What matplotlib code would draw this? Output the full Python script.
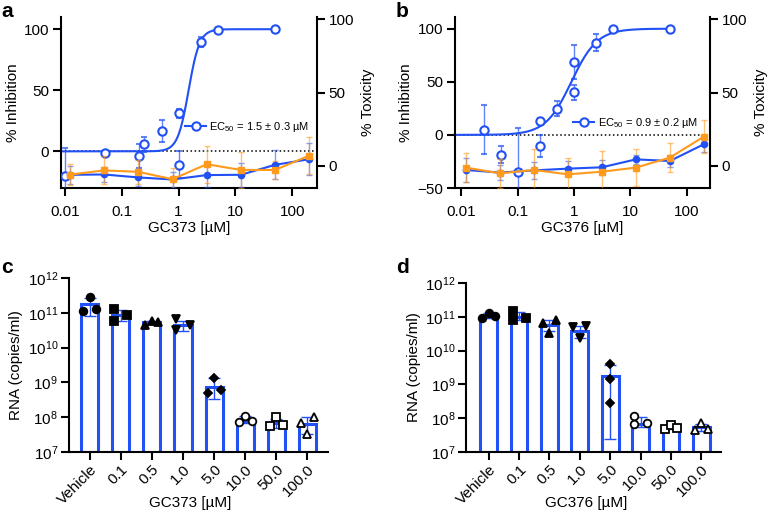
import numpy as np
import matplotlib
matplotlib.use("Agg")
import matplotlib.pyplot as plt
from matplotlib.colors import to_rgba
from matplotlib.lines import Line2D

plt.rcParams["font.family"] = ["Liberation Sans", "DejaVu Sans"]
plt.rcParams["mathtext.default"] = "regular"
plt.rcParams["font.size"] = 11

BLUE = "#2150f5"
ORANGE = "#ff9a1c"

# ---- dose response data (a: GC373, b: GC376) ----
tox_conc = [0.0122, 0.0488, 0.195, 0.781, 3.125, 12.5, 50, 200]

a_inh_conc = [0.01, 0.05, 0.2, 0.25, 0.5, 1, 1, 2.5, 5, 50]
a_inh = [-20, -1.6, -3.8, 5.7, 16.6, 31, -10.9, 89.6, 99.5, 100]
a_inh_err = [23, 2, 10, 6, 9, 4, 11, 4, 1, 0]
a_ec50, a_hill = 1.5, 4.5
a_tox_blue = [-6.0, -5.8, -7.8, -9.2, -6.2, -6.0, 0.8, 4.6]
a_tox_blue_err = [6, 5, 6, 5, 8, 8, 10, 11]
a_tox_orange = [-5.9, -3.0, -4.0, -9.0, 1.2, -2.7, -2.7, 7.1]
a_tox_orange_err = [7, 9.5, 8, 7.5, 12.5, 12, 6, 12.5]

b_inh_conc = [0.025, 0.05, 0.1, 0.25, 0.25, 0.5, 1, 1, 2.5, 5, 50]
b_inh = [4.7, -18.9, -34.6, 13.2, -10.4, 24.6, 68.5, 40, 86.8, 100, 100]
b_inh_err = [23, 8, 41, 3, 10, 7, 16, 7, 8, 1, 0]
b_ec50, b_hill = 0.9, 1.9
b_tox_blue = [-2.7, -4.5, -3.0, -1.8, -0.9, 4.5, 3.4, 14.8]
b_tox_blue_err = [8, 5, 6, 5, 5, 3, 4, 5]
b_tox_orange = [-1.1, -5.0, -2.7, -5.7, -3.9, -1.1, 5.7, 20]
b_tox_orange_err = [10, 10, 14, 11, 14, 12.5, 10, 11]

# ---- viral RNA data (c: GC373, d: GC376) ----
groups = ["Vehicle", "0.1", "0.5", "1.0", "5.0", "10.0", "50.0", "100.0"]

c_mean = [1.74e11, 8.7e10, 5.4e10, 4.5e10, 7.6e8, 7.9e7, 6.9e7, 6.3e7]
c_lo = [8.1e10, 5.9e10, 4.9e10, 3.0e10, 3.3e8, 7.0e7, 4.8e7, 3.4e7]
c_hi = [2.7e11, 1.2e11, 6.0e10, 5.9e10, 1.32e9, 1.05e8, 8.7e7, 1.0e8]
c_pts = [[1.15e11, 2.9e11, 1.25e11], [1.26e11, 5.9e10, 8.7e10],
         [4.5e10, 5.9e10, 5.6e10], [6.6e10, 3.2e10, 4.6e10],
         [1.32e9, 4.9e8, 6.0e8], [7.2e7, 1.08e8, 7.9e7],
         [5.6e7, 1.0e8, 5.8e7], [6.6e7, 1.0e8, 3.2e7]]

d_mean = [9.8e10, 1.02e11, 5.6e10, 3.8e10, 1.78e9, 6.7e7, 5.3e7, 5.4e7]
d_lo = [9.0e10, 7.8e10, 3.7e10, 2.4e10, 2.5e7, 5.6e7, 4.7e7, 4.3e7]
d_hi = [1.3e11, 1.35e11, 8.1e10, 5.5e10, 3.8e9, 1.05e8, 6.2e7, 6.8e7]
d_pts = [[9.1e10, 1.29e11, 1.07e11], [1.45e11, 8.1e10, 9.1e10],
         [6.5e10, 3.3e10, 7.8e10], [5.0e10, 2.35e10, 5.2e10],
         [4.0e9, 1.41e9, 2.8e8], [1.17e8, 6.7e7, 7.1e7],
         [4.9e7, 6.2e7, 5.2e7], [4.5e7, 7.4e7, 4.7e7]]

# point jitter (layout only)
c_jit = [[-.21, 0, .21], [-.21, -.21, .21], [-.21, 0, .21], [-.21, -.21, .21],
         [0, -.21, .21], [-.21, 0, .21], [-.21, 0, .21], [-.21, .21, 0]]
d_jit = [[-.21, 0, .21], [-.21, -.21, .21], [-.21, 0, .21], [-.21, 0, .21],
         [0, 0, 0], [-.21, -.21, .21], [-.21, 0, .21], [-.21, 0, .21]]
markers = [("o", True), ("s", True), ("^", True), ("v", True), ("D", True),
           ("o", False), ("s", False), ("^", False)]

W, H = 768, 517
fig = plt.figure(figsize=(W / 100, H / 100), dpi=100)


def px_axes(left, right, top, bottom):
    return fig.add_axes([left / W, 1 - bottom / H, (right - left) / W, (bottom - top) / H])


def style(ax, pad=3):
    for s in ax.spines.values():
        s.set_linewidth(1.5)
    ax.tick_params(width=1.5, length=5.5, labelsize=11, pad=pad, which="major")
    ax.tick_params(which="minor", length=0)


def dose_panel(ax, inh_x, inh_y, inh_err, ec50, hill, tox_b, tox_be, tox_o, tox_oe,
               xlim, ylim, yticks, xlabel, legtext, legpos):
    ax.set_xscale("log")
    ax.set_xlim(xlim)
    ax.set_ylim(ylim)
    ax.axhline(0, color="k", ls=":", lw=1.1, zorder=1)
    xs = np.logspace(np.log10(xlim[0]), np.log10(50), 400)
    ax.plot(xs, 100 * xs ** hill / (xs ** hill + ec50 ** hill), color=BLUE, lw=1.5, zorder=2)
    ax.errorbar(inh_x, inh_y, yerr=inh_err, fmt="o", mfc="white", mec=BLUE, mew=1.5, ms=6,
                ecolor=to_rgba(BLUE, 0.7), elinewidth=1, capsize=2.5, capthick=1, zorder=3)
    ax.set_yticks(yticks)
    ax.set_xticks([0.01, 0.1, 1, 10, 100])
    ax.set_xticklabels(["0.01", "0.1", "1", "10", "100"])
    ax.set_ylabel("% Inhibition", labelpad=3)
    ax.set_xlabel(xlabel, labelpad=2)
    ax.spines["top"].set_visible(False)
    ax.spines["right"].set_visible(False)
    style(ax)
    ax.tick_params(axis="x", pad=6.5)
    h = Line2D([], [], color=BLUE, lw=1.5, marker="o", mfc="white", mec=BLUE, mew=1.5, ms=6)
    ax.legend([h], [legtext], loc="center left", bbox_to_anchor=legpos, frameon=False,
              borderpad=0, borderaxespad=0, handlelength=1.9, handletextpad=0.3, fontsize=8)

    ax2 = ax.twinx()
    ax2.set_ylim(-15, 101.5)
    ax2.errorbar(tox_conc, tox_b, yerr=tox_be, color=BLUE, marker="o", ms=4.5, lw=1.5,
                 ecolor=to_rgba(BLUE, 0.55), elinewidth=1, capsize=2.5, capthick=1)
    ax2.errorbar(tox_conc, tox_o, yerr=tox_oe, color=ORANGE, marker="s", ms=5, lw=1.5,
                 ecolor=to_rgba(ORANGE, 0.6), elinewidth=1, capsize=2.5, capthick=1)
    ax2.set_yticks([0, 50, 100])
    ax2.set_ylabel("% Toxicity", labelpad=5)
    for s in ["top", "left", "bottom"]:
        ax2.spines[s].set_visible(False)
    style(ax2)


def bar_panel(ax, mean, lo, hi, pts, jit, xlabel, xlim):
    x = np.arange(len(groups))
    mean = np.array(mean)
    ax.set_yscale("log")
    ax.set_ylim(1e7, 1e12)
    ax.set_xlim(xlim)
    ax.bar(x, mean - 1e7, bottom=1e7, width=0.55, color="white", edgecolor=BLUE, linewidth=2.2,
           zorder=2)
    ax.errorbar(x, mean, yerr=[mean - np.array(lo), np.array(hi) - mean], fmt="none",
                ecolor=BLUE, elinewidth=1, capsize=4.5, capthick=1, zorder=3)
    for i, (vals, js) in enumerate(zip(pts, jit)):
        m, filled = markers[i]
        ms = 4.5 if m == "D" else 5.5
        ax.plot(x[i] + np.array(js), vals, ls="none", marker=m, ms=ms,
                mfc="k" if filled else "white", mec="k", mew=1.3, zorder=4)
    ax.set_xticks(x)
    ax.set_xticklabels(groups, rotation=45, ha="right", rotation_mode="anchor")
    ticks = [10.0 ** k for k in range(7, 13)]
    ax.set_yticks(ticks)
    ax.set_yticklabels([r"10$^{%d}$" % k for k in range(7, 13)])
    ax.set_ylabel("RNA (copies/ml)", labelpad=3)
    ax.spines["top"].set_visible(False)
    ax.spines["right"].set_visible(False)
    style(ax, pad=2)
    # x label sits tight under the rotated tick labels
    bb = ax.get_position()
    fig.text(bb.x0 + bb.width * 0.47, 1 - 503 / H, xlabel, ha="center", va="center")


ax_a = px_axes(61, 316.7, 17, 188)
dose_panel(ax_a, a_inh_conc, a_inh, a_inh_err, a_ec50, a_hill, a_tox_blue, a_tox_blue_err,
           a_tox_orange, a_tox_orange_err, (0.0085, 270), (-30, 110), [0, 50, 100],
           "GC373 [µM]", r"EC$_{50}$ = 1.5 ± 0.3 µM", (0.485, 0.357))

ax_b = px_axes(455, 710, 17, 188)
dose_panel(ax_b, b_inh_conc, b_inh, b_inh_err, b_ec50, b_hill, b_tox_blue, b_tox_blue_err,
           b_tox_orange, b_tox_orange_err, (0.0078, 257), (-50, 111), [-50, 0, 50, 100],
           "GC376 [µM]", r"EC$_{50}$ = 0.9 ± 0.2 µM", (0.463, 0.38))

ax_c = px_axes(68.5, 328, 278, 452)
bar_panel(ax_c, c_mean, c_lo, c_hi, c_pts, c_jit, "GC373 [µM]", (-0.68, 7.66))

ax_d = px_axes(466, 721, 283, 452)
bar_panel(ax_d, d_mean, d_lo, d_hi, d_pts, d_jit, "GC376 [µM]", (-0.75, 7.65))

for txt, x, y in [("a", 1, 2), ("b", 396, 2), ("c", 1, 258), ("d", 396, 258)]:
    fig.text(x / W, 1 - y / H, txt, fontsize=15, fontweight="bold", va="top", ha="left")

fig.savefig("out.png", dpi=100)
